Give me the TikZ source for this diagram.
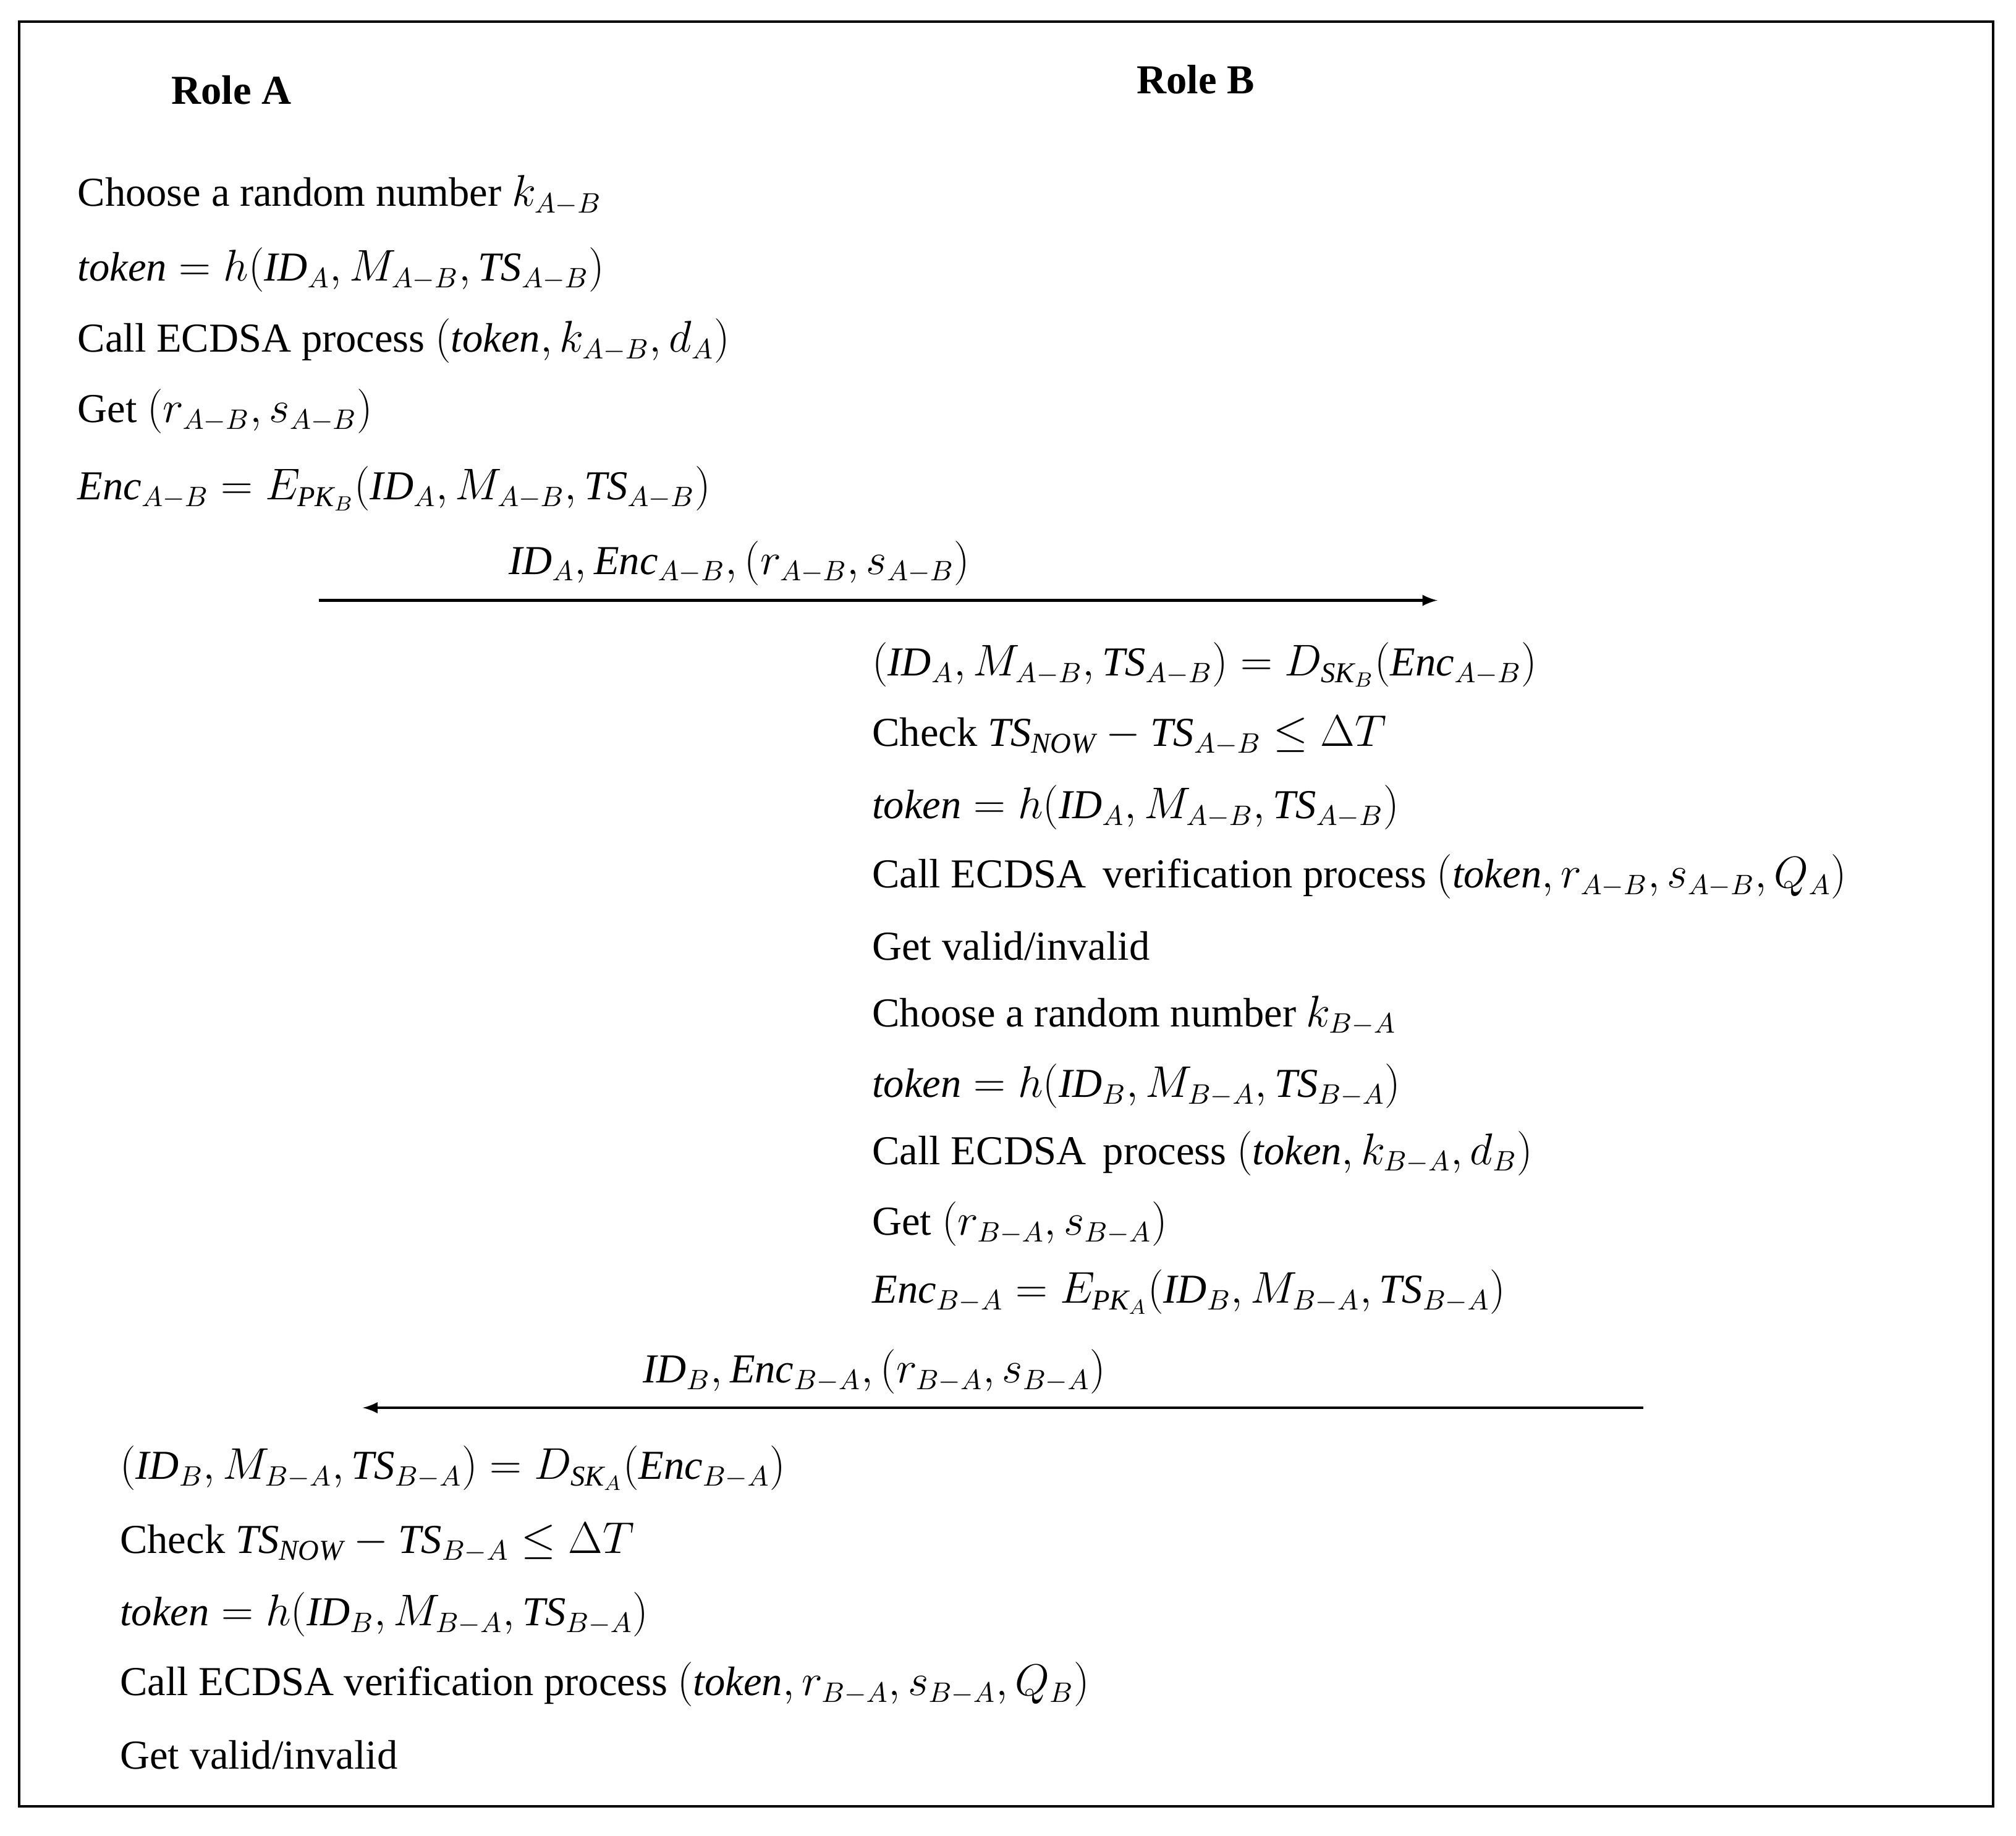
\documentclass[tikz,border=0pt]{standalone}
\usepackage{fontspec}
\setmainfont{Liberation Serif}
\usepackage{amsmath}
\begin{document}
\begin{tikzpicture}[x=0.5pt,y=-0.5pt,
  t/.style={anchor=west,inner sep=0pt,font=\fontsize{16}{18}\selectfont},
  h/.style={anchor=center,inner sep=0pt,font=\fontsize{16}{18}\selectfont\bfseries},
  msg/.style={-latex,line width=1pt}]
\useasboundingbox (0,0) rectangle (1568,1428);
\draw[line width=1pt] (15,17) rectangle (1550,1405);
\node[h] (ra) at (180,70) {Role A};
\node[h] (rb) at (930,62) {Role B};
\node[t] (a1) at (60,152) {Choose a random number $k_{A-B}$};
\node[t] (a2) at (60,210) {$\mathit{token}=h(\mathit{ID}_A,M_{A-B},\mathit{TS}_{A-B})$};
\node[t] (a3) at (60,265) {Call ECDSA process $(\mathit{token},k_{A-B},d_A)$};
\node[t] (a4) at (60,320) {Get $(r_{A-B},s_{A-B})$};
\node[t] (a5) at (60,380) {$\mathit{Enc}_{A-B}=E_{\mathit{PK}_B}(\mathit{ID}_A,M_{A-B},\mathit{TS}_{A-B})$};
\coordinate (m1s) at (248,467); \coordinate (m1e) at (1118,467);
\draw[msg] (m1s) -- (m1e);
\node[t,anchor=center] (l1) at (575,438) {$\mathit{ID}_A,\mathit{Enc}_{A-B},(r_{A-B},s_{A-B})$};
\node[t] (b1) at (678,517) {$(\mathit{ID}_A,M_{A-B},\mathit{TS}_{A-B})=D_{\mathit{SK}_B}(\mathit{Enc}_{A-B})$};
\node[t] (b2) at (678,572) {Check $\mathit{TS}_{\mathit{NOW}}-\mathit{TS}_{A-B}\le\Delta T$};
\node[t] (b3) at (678,628) {$\mathit{token}=h(\mathit{ID}_A,M_{A-B},\mathit{TS}_{A-B})$};
\node[t] (b4) at (678,682) {Call ECDSA\, verification process $(\mathit{token},r_{A-B},s_{A-B},Q_A)$};
\node[t] (b5) at (678,736) {Get valid/invalid};
\node[t] (b6) at (678,790) {Choose a random number $k_{B-A}$};
\node[t] (b7) at (678,845) {$\mathit{token}=h(\mathit{ID}_B,M_{B-A},\mathit{TS}_{B-A})$};
\node[t] (b8) at (678,897) {Call ECDSA\, process $(\mathit{token},k_{B-A},d_B)$};
\node[t] (b9) at (678,952) {Get $(r_{B-A},s_{B-A})$};
\node[t] (b10) at (678,1005) {$\mathit{Enc}_{B-A}=E_{\mathit{PK}_A}(\mathit{ID}_B,M_{B-A},\mathit{TS}_{B-A})$};
\coordinate (m2s) at (1278,1095); \coordinate (m2e) at (282,1095);
\draw[msg] (m2s) -- (m2e);
\node[t,anchor=center] (l2) at (680,1067) {$\mathit{ID}_B,\mathit{Enc}_{B-A},(r_{B-A},s_{B-A})$};
\node[t] (c1) at (93,1142) {$(\mathit{ID}_B,M_{B-A},\mathit{TS}_{B-A})=D_{\mathit{SK}_A}(\mathit{Enc}_{B-A})$};
\node[t] (c2) at (93,1200) {Check $\mathit{TS}_{\mathit{NOW}}-\mathit{TS}_{B-A}\le\Delta T$};
\node[t] (c3) at (93,1256) {$\mathit{token}=h(\mathit{ID}_B,M_{B-A},\mathit{TS}_{B-A})$};
\node[t] (c4) at (93,1310) {Call ECDSA verification process $(\mathit{token},r_{B-A},s_{B-A},Q_B)$};
\node[t] (c5) at (93,1365) {Get valid/invalid};
\end{tikzpicture}
\end{document}
